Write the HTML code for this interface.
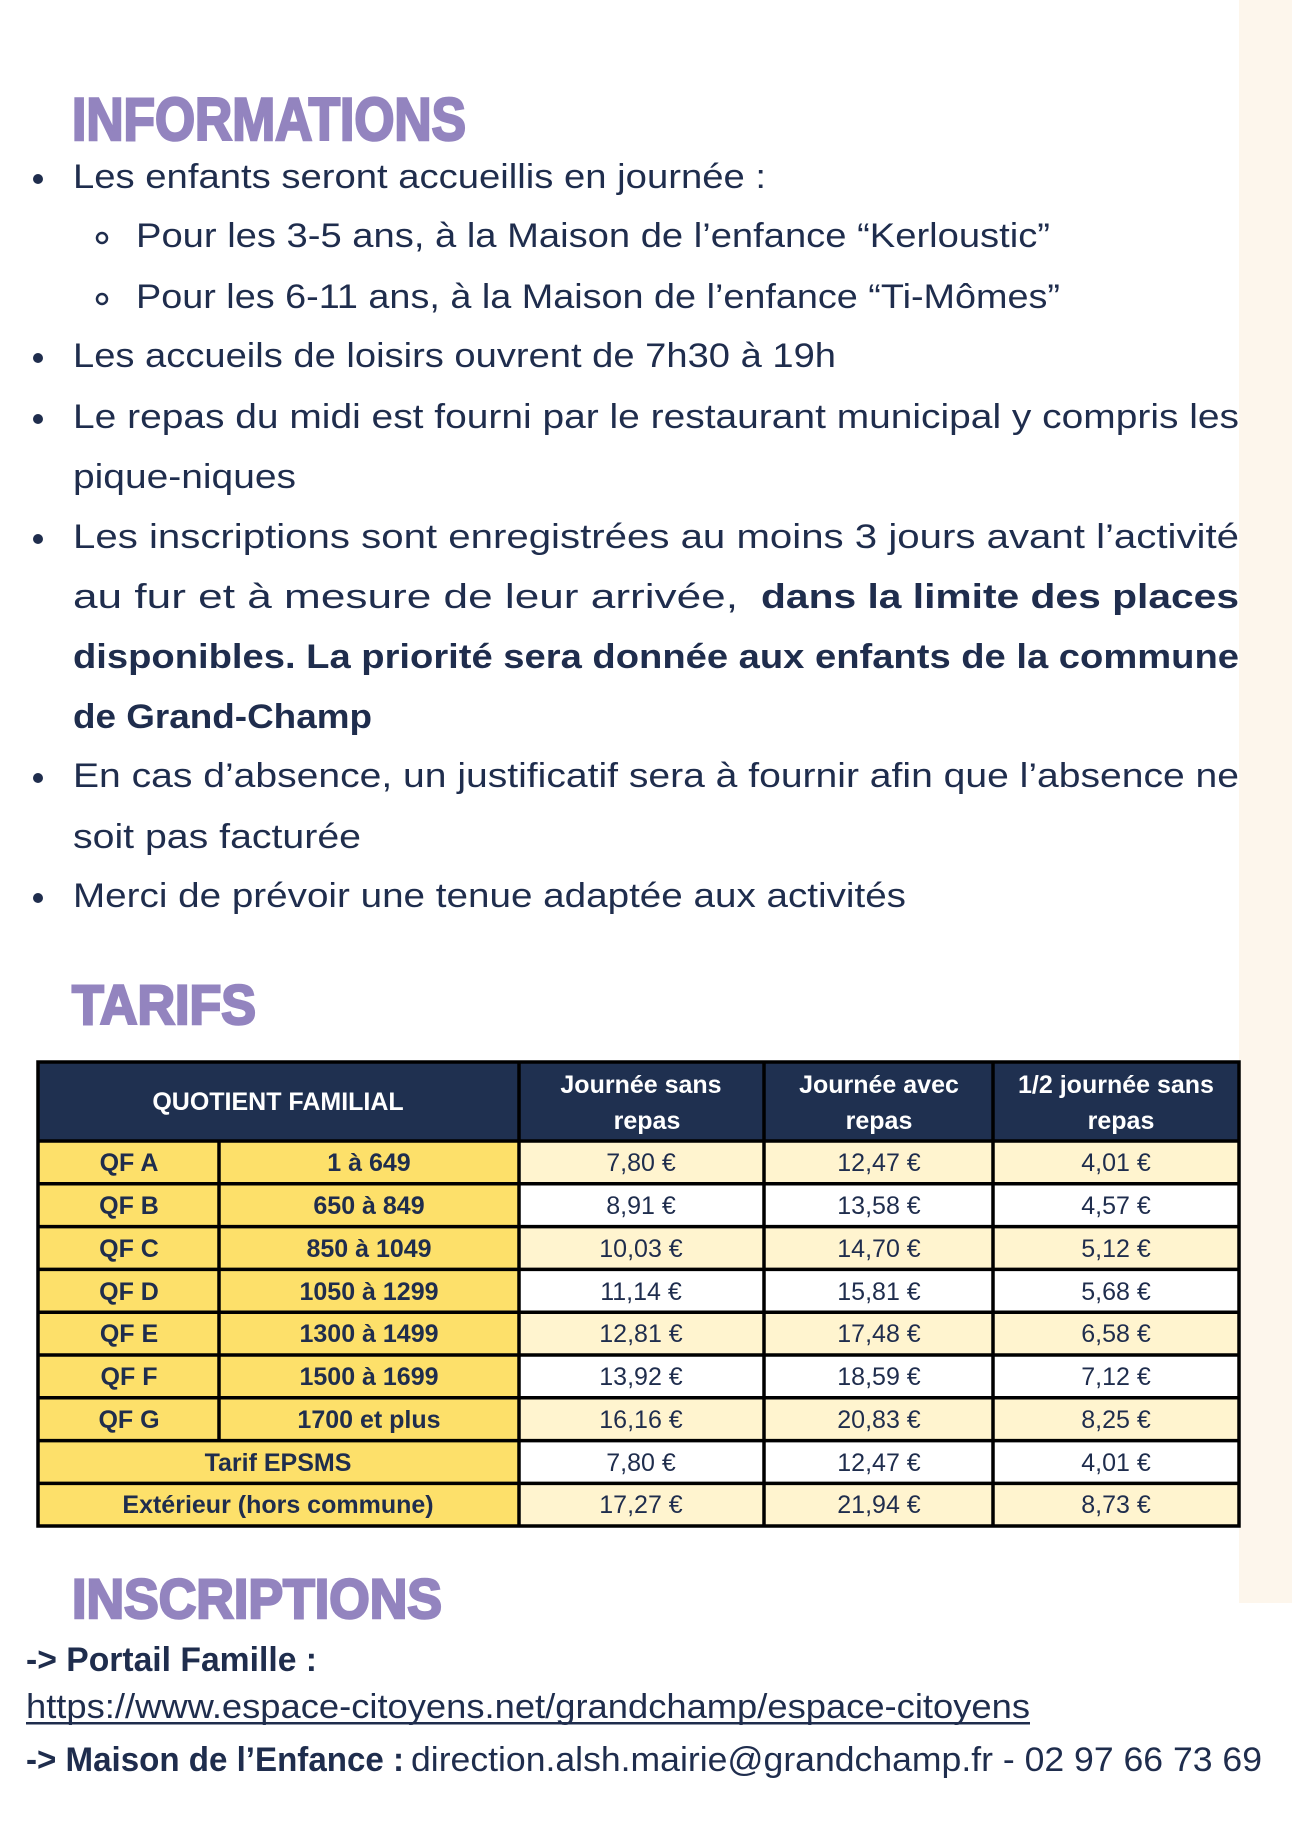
<!DOCTYPE html>
<html><head><meta charset="utf-8"><style>
html,body{margin:0;padding:0;background:#fff;}
svg{display:block;}
text{font-family:"Liberation Sans",sans-serif;fill:#1f2d4d;}
.b{font-size:34px;}
.bb{font-size:34px;font-weight:bold;}
.h{font-weight:900;fill:#9384bf;stroke:#9384bf;stroke-width:2.5px;}
.th{font-size:25px;font-weight:bold;fill:#fff;}
.tq{font-size:25px;font-weight:bold;}
.tv{font-size:25px;}
</style></head><body>
<svg width="1292" height="1826" viewBox="0 0 1292 1826" xmlns="http://www.w3.org/2000/svg">
<rect x="1239" y="0" width="53" height="1603" fill="#fdf6ec"/>
<text class="h" x="72" y="140" font-size="60" textLength="394" lengthAdjust="spacingAndGlyphs">INFORMATIONS</text>
<g fill="#1f2d4d">
<circle cx="38" cy="179" r="5"/><circle cx="38" cy="358" r="5"/><circle cx="38" cy="419" r="5"/>
<circle cx="38" cy="539" r="5"/><circle cx="38" cy="778" r="5"/><circle cx="38" cy="898" r="5"/>
</g>
<circle cx="102" cy="238" r="5" fill="none" stroke="#1f2d4d" stroke-width="2.5"/>
<circle cx="102" cy="299" r="5" fill="none" stroke="#1f2d4d" stroke-width="2.5"/>
<text class="b" x="73" y="188" textLength="693" lengthAdjust="spacingAndGlyphs">Les enfants seront accueillis en journée :</text>
<text class="b" x="136" y="247" textLength="914" lengthAdjust="spacingAndGlyphs">Pour les 3-5 ans, à la Maison de l’enfance “Kerloustic”</text>
<text class="b" x="136" y="308" textLength="924" lengthAdjust="spacingAndGlyphs">Pour les 6-11 ans, à la Maison de l’enfance “Ti-Mômes”</text>
<text class="b" x="73" y="367" textLength="763" lengthAdjust="spacingAndGlyphs">Les accueils de loisirs ouvrent de 7h30 à 19h</text>
<text class="b" x="73" y="428" textLength="1166" lengthAdjust="spacingAndGlyphs">Le repas du midi est fourni par le restaurant municipal y compris les</text>
<text class="b" x="73" y="488" textLength="223" lengthAdjust="spacingAndGlyphs">pique-niques</text>
<text class="b" x="73" y="548" textLength="1166" lengthAdjust="spacingAndGlyphs">Les inscriptions sont enregistrées au moins 3 jours avant l’activité</text>
<text class="b" x="73" y="608" textLength="665" lengthAdjust="spacingAndGlyphs">au fur et à mesure de leur arrivée,</text>
<text class="bb" x="761" y="608" textLength="478" lengthAdjust="spacingAndGlyphs">dans la limite des places</text>
<text class="bb" x="73" y="668" textLength="1166" lengthAdjust="spacingAndGlyphs">disponibles. La priorité sera donnée aux enfants de la commune</text>
<text class="bb" x="73" y="728" textLength="299" lengthAdjust="spacingAndGlyphs">de Grand-Champ</text>
<text class="b" x="73" y="787" textLength="1166" lengthAdjust="spacingAndGlyphs">En cas d’absence, un justificatif sera à fournir afin que l’absence ne</text>
<text class="b" x="73" y="848" textLength="288" lengthAdjust="spacingAndGlyphs">soit pas facturée</text>
<text class="b" x="73" y="907" textLength="833" lengthAdjust="spacingAndGlyphs">Merci de prévoir une tenue adaptée aux activités</text>

<text class="h" x="72" y="1024" font-size="56" textLength="184" lengthAdjust="spacingAndGlyphs">TARIFS</text>

<rect x="38" y="1062" width="1201" height="79" fill="#1f3050"/>
<rect x="38" y="1141" width="481" height="385" fill="#fde06a"/>
<g fill="#fff4cf">
<rect x="519" y="1141" width="720" height="42.8"/>
<rect x="519" y="1226.6" width="720" height="42.8"/>
<rect x="519" y="1312.2" width="720" height="42.8"/>
<rect x="519" y="1397.8" width="720" height="42.8"/>
<rect x="519" y="1483.2" width="720" height="42.8"/>
</g>
<g stroke="#000" stroke-width="3.5" fill="none">
<rect x="38" y="1062" width="1201" height="464"/>
<line x1="38" y1="1141" x2="1239" y2="1141"/>
<line x1="38" y1="1183.8" x2="1239" y2="1183.8"/>
<line x1="38" y1="1226.6" x2="1239" y2="1226.6"/>
<line x1="38" y1="1269.4" x2="1239" y2="1269.4"/>
<line x1="38" y1="1312.2" x2="1239" y2="1312.2"/>
<line x1="38" y1="1355" x2="1239" y2="1355"/>
<line x1="38" y1="1397.8" x2="1239" y2="1397.8"/>
<line x1="38" y1="1440.6" x2="1239" y2="1440.6"/>
<line x1="38" y1="1483.4" x2="1239" y2="1483.4"/>
<line x1="219" y1="1141" x2="219" y2="1440.6"/>
<line x1="519" y1="1062" x2="519" y2="1526"/>
<line x1="764" y1="1062" x2="764" y2="1526"/>
<line x1="993" y1="1062" x2="993" y2="1526"/>
</g>
<g text-anchor="middle">
<text class="th" x="278" y="1110">QUOTIENT FAMILIAL</text>
<text class="th" x="641" y="1093">Journée sans</text><text class="th" x="647" y="1129">repas</text>
<text class="th" x="879" y="1093">Journée avec</text><text class="th" x="879" y="1129">repas</text>
<text class="th" x="1116" y="1093">1/2 journée sans</text><text class="th" x="1121" y="1129">repas</text>
</g>
<g text-anchor="middle">
<text class="tq" x="129" y="1171">QF A</text><text class="tq" x="369" y="1171">1 à 649</text>
<text class="tv" x="641" y="1171">7,80 €</text><text class="tv" x="879" y="1171">12,47 €</text><text class="tv" x="1116" y="1171">4,01 €</text>
<text class="tq" x="129" y="1214">QF B</text><text class="tq" x="369" y="1214">650 à 849</text>
<text class="tv" x="641" y="1214">8,91 €</text><text class="tv" x="879" y="1214">13,58 €</text><text class="tv" x="1116" y="1214">4,57 €</text>
<text class="tq" x="129" y="1257">QF C</text><text class="tq" x="369" y="1257">850 à 1049</text>
<text class="tv" x="641" y="1257">10,03 €</text><text class="tv" x="879" y="1257">14,70 €</text><text class="tv" x="1116" y="1257">5,12 €</text>
<text class="tq" x="129" y="1300">QF D</text><text class="tq" x="369" y="1300">1050 à 1299</text>
<text class="tv" x="641" y="1300">11,14 €</text><text class="tv" x="879" y="1300">15,81 €</text><text class="tv" x="1116" y="1300">5,68 €</text>
<text class="tq" x="129" y="1342">QF E</text><text class="tq" x="369" y="1342">1300 à 1499</text>
<text class="tv" x="641" y="1342">12,81 €</text><text class="tv" x="879" y="1342">17,48 €</text><text class="tv" x="1116" y="1342">6,58 €</text>
<text class="tq" x="129" y="1385">QF F</text><text class="tq" x="369" y="1385">1500 à 1699</text>
<text class="tv" x="641" y="1385">13,92 €</text><text class="tv" x="879" y="1385">18,59 €</text><text class="tv" x="1116" y="1385">7,12 €</text>
<text class="tq" x="129" y="1428">QF G</text><text class="tq" x="369" y="1428">1700 et plus</text>
<text class="tv" x="641" y="1428">16,16 €</text><text class="tv" x="879" y="1428">20,83 €</text><text class="tv" x="1116" y="1428">8,25 €</text>
<text class="tq" x="278" y="1471">Tarif EPSMS</text>
<text class="tv" x="641" y="1471">7,80 €</text><text class="tv" x="879" y="1471">12,47 €</text><text class="tv" x="1116" y="1471">4,01 €</text>
<text class="tq" x="278" y="1513">Extérieur (hors commune)</text>
<text class="tv" x="641" y="1513">17,27 €</text><text class="tv" x="879" y="1513">21,94 €</text><text class="tv" x="1116" y="1513">8,73 €</text>
</g>

<text class="h" x="72" y="1618" font-size="56" textLength="370" lengthAdjust="spacingAndGlyphs">INSCRIPTIONS</text>
<text class="bb" x="26" y="1671" textLength="291" lengthAdjust="spacingAndGlyphs">-&gt; Portail Famille :</text>
<text class="b" x="26" y="1718" textLength="1004" lengthAdjust="spacingAndGlyphs">https://www.espace-citoyens.net/grandchamp/espace-citoyens</text>
<rect x="26" y="1722" width="1004" height="2.5" fill="#1f2d4d"/>
<text class="bb" x="26" y="1771" textLength="378" lengthAdjust="spacingAndGlyphs">-&gt; Maison de l’Enfance :</text>
<text class="b" x="411" y="1771" textLength="851" lengthAdjust="spacingAndGlyphs">direction.alsh.mairie@grandchamp.fr - 02 97 66 73 69</text>
</svg>
</body></html>
